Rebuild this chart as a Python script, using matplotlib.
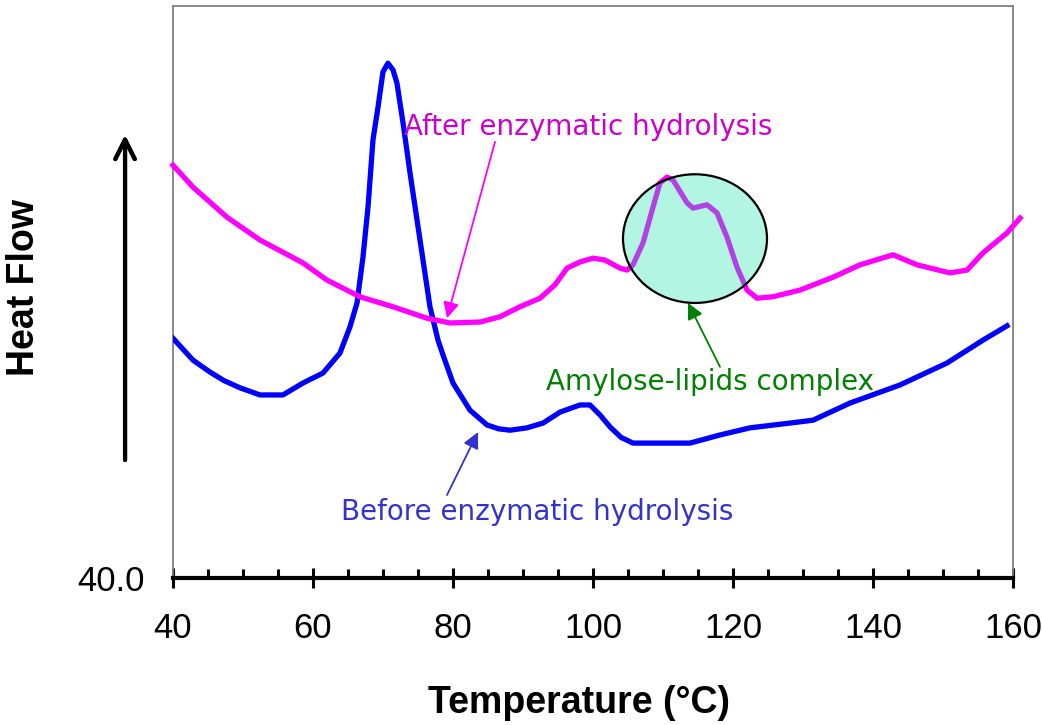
import matplotlib.pyplot as plt
from matplotlib.patches import Ellipse
from matplotlib.ticker import MultipleLocator

# DSC traces (temperature in degC, heat flow in arbitrary units)
temp_before = [40.0, 42.86, 45.29, 47.3, 49.57, 52.43, 55.71, 58.57, 61.43, 63.86, 65.29,
               66.29, 67.14, 67.86, 68.57, 69.29, 70.0, 70.71, 71.43, 72.0, 72.86,
               73.86, 75.29, 76.71, 77.86, 78.57, 80.0, 82.43, 84.86, 86.5, 88.14, 90.57,
               92.86, 95.29, 98.14, 99.57, 101.0, 102.43, 104.0, 105.71, 113.86, 118.14,
               122.43, 128.14, 131.43, 136.71, 143.86, 150.57, 155.71, 159.14]
hf_before = [45.03, 44.57, 44.32, 44.14, 43.99, 43.84, 43.84, 44.09, 44.30, 44.72, 45.27,
             45.77, 46.73, 47.78, 49.19, 49.88, 50.62, 50.80, 50.66, 50.38, 49.55,
             48.50, 47.09, 45.69, 44.99, 44.68, 44.09, 43.52, 43.21, 43.13, 43.10, 43.15,
             43.25, 43.48, 43.63, 43.63, 43.42, 43.17, 42.95, 42.83, 42.83, 43.00,
             43.15, 43.25, 43.31, 43.67, 44.05, 44.51, 44.99, 45.29]

temp_after = [40.0, 42.86, 47.71, 52.43, 58.57, 62.0, 66.71, 71.43, 76.29, 79.57,
              83.86, 86.71, 89.57, 92.43, 94.57, 96.29, 98.14, 100.0, 101.71, 103.86,
              104.86, 105.71, 107.14, 108.57, 109.57, 110.57, 111.43, 113.43, 114.29,
              116.29, 117.71, 119.14, 120.57, 122.0, 123.43, 125.71, 129.57, 134.29,
              138.14, 142.86, 146.29, 151.0, 153.43, 155.71, 159.14, 161.0]
hf_after = [48.66, 48.20, 47.57, 47.09, 46.61, 46.25, 45.90, 45.69, 45.45, 45.35,
            45.37, 45.48, 45.69, 45.87, 46.15, 46.50, 46.63, 46.71, 46.67, 46.50,
            46.46, 46.57, 47.03, 47.78, 48.29, 48.41, 48.35, 47.87, 47.76,
            47.83, 47.66, 47.15, 46.52, 46.04, 45.87, 45.90, 46.04, 46.31,
            46.57, 46.78, 46.57, 46.40, 46.46, 46.82, 47.24, 47.55]

x_ticks = [40, 60, 80, 100, 120, 140, 160]
y_min = 40.0

fig = plt.figure(figsize=(10.42, 7.25), dpi=100)
ax = fig.add_axes([0.166, 0.2028, 0.8062, 0.7889])

ax.plot(temp_before, hf_before, color='#0000ff', lw=3.8, solid_joinstyle='round', zorder=3)
ax.plot(temp_after, hf_after, color='#ff00ff', lw=3.8, solid_joinstyle='round',
        zorder=3, clip_on=False)

# highlighted region around the complex melting peak
ax.add_patch(Ellipse((114.57, 47.12), 20.57, 2.70, facecolor=(0, 222/255, 162/255, 0.3),
                     edgecolor='black', lw=1.6, zorder=4))

ax.set_xlim(40, 160)
ax.set_ylim(y_min, 52)

for side in ['left', 'top', 'right']:
    ax.spines[side].set_color('#808080')
    ax.spines[side].set_linewidth(1.3)
ax.spines['bottom'].set_linewidth(3)
ax.spines['bottom'].set_zorder(5)

ax.set_xticks(x_ticks)
ax.xaxis.set_minor_locator(MultipleLocator(5))
ax.tick_params(axis='x', which='major', direction='inout', length=14.5, width=2.2,
               labelsize=25, pad=17)
ax.tick_params(axis='x', which='minor', direction='in', length=6.5, width=2.2)
ax.set_yticks([y_min])
ax.set_yticklabels([f'{y_min:.1f}'])
ax.tick_params(axis='y', length=0, labelsize=25, pad=20)
for lbl in ax.get_xticklabels() + ax.get_yticklabels():
    lbl.set_family('Liberation Sans')

# annotations
ax.annotate('', xy=(79.14, 45.45), xytext=(86.0, 49.15),
            arrowprops=dict(arrowstyle='-|>', color='#ff00ff', lw=1.3,
                            mutation_scale=24, shrinkA=0, shrinkB=0))
ax.text(99.29, 49.29, 'After enzymatic hydrolysis', color='#cc00cc', fontsize=20,
        ha='center', va='baseline')

ax.annotate('', xy=(83.57, 43.06), xytext=(79.14, 41.74),
            arrowprops=dict(arrowstyle='-|>', color='#3333cc', lw=1.3,
                            mutation_scale=24, shrinkA=0, shrinkB=0))
ax.text(92.0, 41.22, 'Before enzymatic hydrolysis', color='#3333cc', fontsize=20,
        ha='center', va='baseline')

ax.annotate('', xy=(113.57, 45.77), xytext=(118.14, 44.43),
            arrowprops=dict(arrowstyle='-|>', color='#008000', lw=1.3,
                            mutation_scale=24, shrinkA=0, shrinkB=0))
ax.text(116.71, 43.94, 'Amylose-lipids complex', color='#008000', fontsize=20,
        ha='center', va='baseline')

# axis titles and the heat-flow direction arrow
fig.text(0.5557, 0.0166, 'Temperature (°C)', fontsize=27, fontweight='bold',
         family='Liberation Sans', ha='center', va='baseline')
fig.text(0.0226, 0.603, 'Heat Flow', fontsize=27, fontweight='bold',
         family='Liberation Sans', rotation=90, ha='center', va='center')
fig.add_artist(plt.annotate('', xy=(0.12, 0.8138), xytext=(0.12, 0.3655),
                            xycoords='figure fraction', textcoords='figure fraction',
                            arrowprops=dict(arrowstyle='->', color='black', lw=3,
                                            mutation_scale=35, shrinkA=0, shrinkB=0)))

fig.savefig('out.png', dpi=100)
